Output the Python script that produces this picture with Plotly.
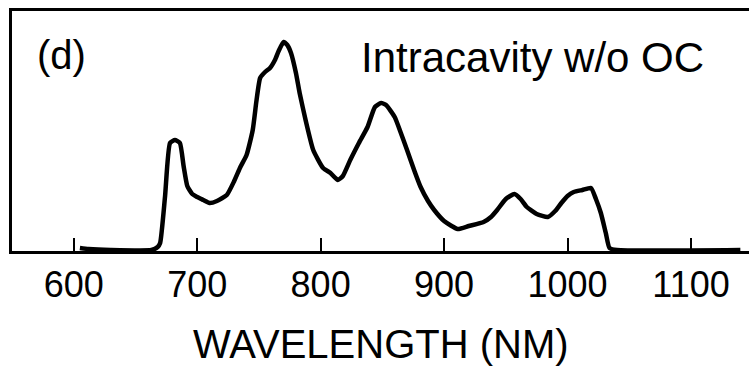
import plotly.graph_objects as go

wavelength = [605, 612, 630, 663, 668, 670, 674, 678, 682, 686, 689, 692, 696, 700, 705, 710,
              716, 724, 730, 735, 740, 745, 748, 751, 755, 759, 763, 766, 770, 773, 776, 780,
              783, 788, 794, 802, 808, 814, 818, 824, 831, 838, 844, 849, 853, 860, 865, 870,
              876, 881, 887, 892, 900, 911, 920, 932, 938, 943, 950, 957, 962, 967, 975, 984,
              990, 995, 1000, 1005, 1012, 1019, 1023, 1027, 1031, 1034, 1040, 1140]
intensity = [3, 2, 1, 1, 4, 8, 55, 108, 111, 108, 85, 65, 57, 54, 51, 48,
             50, 56, 70, 84, 96, 121, 150, 173, 179, 183, 191, 200, 209, 206, 198, 178,
             158, 130, 101, 83, 78, 71, 75, 91, 108, 124, 144, 148, 146, 134, 118, 101,
             80, 64, 50, 41, 30, 22, 25, 29, 34, 41, 52, 57, 52, 44, 37, 34,
             40, 48, 55, 59, 61, 63, 52, 38, 18, 3, 1, 1]
tick_vals = [600, 700, 800, 900, 1000, 1100]
panel_label = "(d)"
panel_title = "Intracavity w/o OC"
x_title = "WAVELENGTH (NM)"

FONT = "Liberation Sans, Arial, Helvetica, sans-serif"

fig = go.Figure()
fig.add_trace(go.Scatter(
    x=wavelength, y=intensity, mode="lines",
    line=dict(color="black", width=4.5, shape="spline", smoothing=0.5),
    hoverinfo="skip", showlegend=False,
))

fig.update_layout(
    width=749, height=367,
    margin=dict(l=12, r=0, t=11, b=116),
    paper_bgcolor="white", plot_bgcolor="white",
    font=dict(family=FONT, color="black"),
    xaxis=dict(
        range=[550, 1147], showgrid=False, zeroline=False,
        showline=True, linecolor="black", linewidth=3, mirror=True,
        tickmode="array", tickvals=tick_vals,
        ticks="inside", ticklen=13, tickwidth=2, tickcolor="black",
        tickfont=dict(size=36, family=FONT, color="black"),
        ticklabelstandoff=0,
    ),
    yaxis=dict(
        range=[0, 240], showgrid=False, zeroline=False,
        showline=True, linecolor="black", linewidth=3, mirror=False,
        showticklabels=False, ticks="",
    ),
    annotations=[
        dict(text=panel_label, xref="paper", yref="paper", x=(35 - 12) / 737, y=(251 - 55) / 240,
             xanchor="left", yanchor="middle", showarrow=False,
             font=dict(size=40, family=FONT, color="black")),
        dict(text=panel_title, xref="paper", yref="paper", x=(359 - 12) / 737, y=(251 - 58) / 240,
             xanchor="left", yanchor="middle", showarrow=False,
             font=dict(size=42, family=FONT, color="black")),
        dict(text=x_title, xref="paper", yref="paper", x=0.5, y=(251 - 344) / 240,
             xanchor="center", yanchor="middle", showarrow=False,
             font=dict(size=40, family=FONT, color="black")),
    ],
)

fig.write_html("out.html")
